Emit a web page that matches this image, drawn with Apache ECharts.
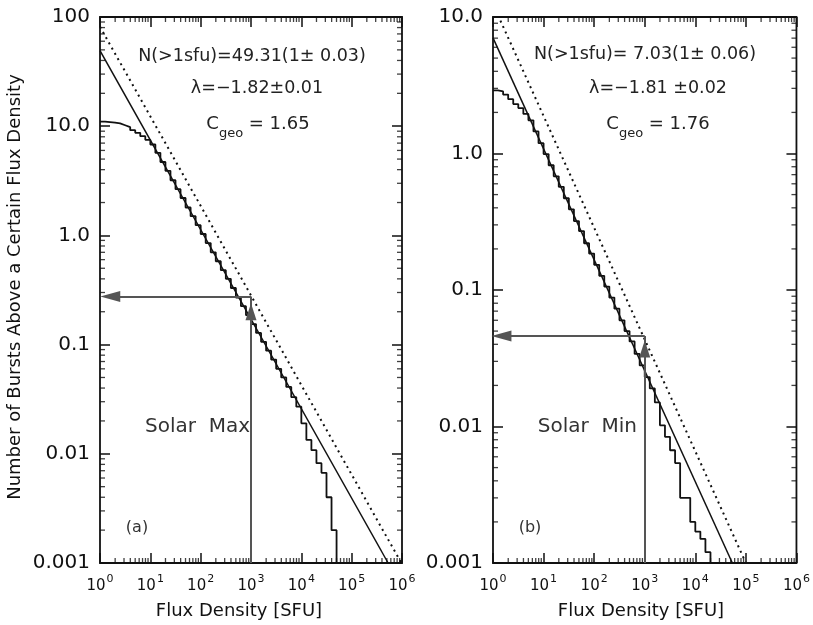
<!DOCTYPE html>
<html>
<head>
<meta charset="utf-8">
<script src="https://cdn.jsdelivr.net/npm/echarts@6/dist/echarts.min.js"></script>
<style>
html, body { margin: 0; padding: 0; background: #fff; }
#chart { width: 813px; height: 625px; }
</style>
</head>
<body>
<div id="chart"></div>
<script>
// cumulative burst rate, bins of 0.1 dex starting at 1 SFU
var binStep = 0.1;
var maxCounts = [11.0, 10.9, 10.8, 10.6, 10.2, 9.8, 9.2, 8.7, 8.1, 7.5,
	6.8, 5.7, 4.7, 3.9, 3.2, 2.65, 2.2, 1.8, 1.5, 1.24,
	1.03, 0.85, 0.70, 0.58, 0.48, 0.40, 0.33, 0.27, 0.225, 0.186,
	0.154, 0.128, 0.106, 0.088, 0.073, 0.060, 0.050, 0.041, 0.033, 0.027,
	0.019, 0.0134, 0.0108, 0.0082, 0.0067, 0.004, 0.002, 0.001, 0.001];
var minCounts = [2.9, 2.85, 2.7, 2.5, 2.3, 2.15, 1.95, 1.75, 1.45, 1.19,
	0.99, 0.82, 0.68, 0.57, 0.47, 0.39, 0.32, 0.27, 0.22, 0.185,
	0.153, 0.127, 0.106, 0.088, 0.073, 0.060, 0.050, 0.042, 0.034, 0.028,
	0.023, 0.019, 0.015, 0.0102, 0.0084, 0.0067, 0.0054, 0.003, 0.003, 0.002,
	0.0017, 0.0015, 0.0012, 0.001];

// power-law fits [S, N] (solid) and geo-corrected fits (dotted)
var maxFit = [[1, 49.31], [5.3e5, 0.001]];
var maxFitGeo = [[1, 81.4], [9.7e5, 0.001]];
var minFit = [[1, 7.03], [5.4e4, 0.001]];
var minFitGeo = [[1, 12.4], [1.0e5, 0.001]];

// read-off arrows at 1000 SFU: rate, and where the heads sit
var maxArrow = { s: 1000, n: 0.275, headN: 0.2, headS: 1.6 };
var minArrow = { s: 1000, n: 0.046, headN: 0.037, headS: 1.47 };

// tick labels
var yLabelsMax = ['0.001', '0.01', '0.1', '1.0', '10.0', '100'];
var yLabelsMin = ['0.001', '0.01', '0.1', '1.0', '10.0'];

var FONT = 'DejaVu Sans';
var INK = '#111';

function stairs(counts) {
	var d = [];
	for (var i = 0; i < counts.length; i++) {
		d.push([Math.pow(10, i * binStep), counts[i]]);
	}
	var end = Math.pow(10, counts.length * binStep);
	d.push([end, counts[counts.length - 1]]);
	d.push([end, 0.0001]);
	return d;
}

// 2..9 x 10^k minor tick values between two decades
function minorValues(lo, hi) {
	var v = [];
	for (var k = lo; k < hi; k++) {
		for (var m = 2; m <= 9; m++) v.push(m * Math.pow(10, k));
	}
	return v;
}

function logExp(v) { return Math.round(Math.log10(v)); }

function xAxisPair(grid) {
	var base = {
		type: 'log', logBase: 10, min: 1, max: 1e6, splitNumber: 6, gridIndex: grid,
		axisLine: { show: false }, splitLine: { show: false },
		axisTick: { inside: true, length: 10, lineStyle: { color: INK, width: 1.5 } }
	};
	var bottom = echarts.util.merge({
		position: 'bottom',
		axisLabel: {
			margin: 7,
			formatter: function (v) { return '{b|10}{s|' + logExp(v) + '}'; },
			rich: {
				b: { fontFamily: FONT, fontSize: 15, color: INK, lineHeight: 24, verticalAlign: 'bottom' },
				s: { fontFamily: FONT, fontSize: 11, color: INK, lineHeight: 24, verticalAlign: 'top', padding: [4, 0, 0, 1] }
			}
		}
	}, base, true);
	var top = echarts.util.merge({ position: 'top', axisLabel: { show: false } }, base, true);
	return [bottom, top];
}

function yAxisPair(grid, maxV, labels) {
	var lo = -3;
	var base = {
		type: 'log', logBase: 10, min: 0.001, max: maxV, splitNumber: logExp(maxV) - lo, gridIndex: grid,
		axisLine: { show: false }, splitLine: { show: false },
		axisTick: { inside: true, length: 10, lineStyle: { color: INK, width: 1.5 } }
	};
	var left = echarts.util.merge({
		position: 'left',
		axisLabel: {
			margin: 10, fontFamily: FONT, fontSize: 20, color: INK,
			formatter: function (v) { return labels[logExp(v) - lo]; }
		}
	}, base, true);
	var right = echarts.util.merge({ position: 'right', axisLabel: { show: false } }, base, true);
	return [left, right];
}

function tickSeries(ax, xMin, xMax, yMin, yMax) {
	var common = {
		type: 'scatter', xAxisIndex: ax, yAxisIndex: ax, symbol: 'rect', silent: true,
		clip: false, itemStyle: { color: INK }, z: 5
	};
	var xs = minorValues(logExp(xMin), logExp(xMax));
	var ys = minorValues(logExp(yMin), logExp(yMax));
	return [
		Object.assign({}, common, { data: xs.map(function (v) { return [v, yMin]; }), symbolSize: [1.3, 5], symbolOffset: [0, -2.5] }),
		Object.assign({}, common, { data: xs.map(function (v) { return [v, yMax]; }), symbolSize: [1.3, 5], symbolOffset: [0, 2.5] }),
		Object.assign({}, common, { data: ys.map(function (v) { return [xMin, v]; }), symbolSize: [5, 1.3], symbolOffset: [2.5, 0] }),
		Object.assign({}, common, { data: ys.map(function (v) { return [xMax, v]; }), symbolSize: [5, 1.3], symbolOffset: [-2.5, 0] })
	];
}

function panelSeries(ax, counts, fit, fitGeo, arrow) {
	return [
		{ type: 'line', xAxisIndex: ax, yAxisIndex: ax, data: stairs(counts), step: 'end', showSymbol: false,
			lineStyle: { color: INK, width: 1.8 }, z: 4 },
		{ type: 'line', xAxisIndex: ax, yAxisIndex: ax, data: fit, showSymbol: false,
			lineStyle: { color: INK, width: 1.5 }, z: 3 },
		{ type: 'line', xAxisIndex: ax, yAxisIndex: ax, data: fitGeo, showSymbol: false,
			lineStyle: { color: INK, width: 2, type: [2, 4] }, z: 3 },
		{ type: 'line', xAxisIndex: ax, yAxisIndex: ax, data: [],
			markLine: {
				silent: true, animation: false, label: { show: false },
				symbol: ['none', 'none'],
				lineStyle: { color: '#555', width: 2, type: 'solid' },
				data: [
					[{ coord: [arrow.s, 0.001] }, { coord: [arrow.s, arrow.n] }],
					[{ coord: [arrow.s, 0.001] }, { coord: [arrow.s, arrow.headN], symbol: 'triangle', symbolSize: [11, 17] }],
					[{ coord: [arrow.s, arrow.n] }, { coord: [arrow.headS, arrow.n], symbol: 'triangle', symbolSize: [11, 20] }]
				]
			}
		}
	];
}

var Container = document.getElementById('chart');
var myChart = echarts.init(Container);

var xA = xAxisPair(0), xB = xAxisPair(1);
var yA = yAxisPair(0, 100, yLabelsMax), yB = yAxisPair(1, 10, yLabelsMin);

var textStyle = { fontFamily: FONT, fontSize: 17.5, fill: '#222', align: 'center', verticalAlign: 'middle' };
function txt(x, y, text, extra) {
	return { type: 'text', x: x, y: y, silent: true, style: Object.assign({}, textStyle, { text: text }, extra || {}) };
}
var geoRich = {
	c: { fontFamily: FONT, fontSize: 18, fill: '#222', lineHeight: 25, verticalAlign: 'top' },
	s: { fontFamily: FONT, fontSize: 13, fill: '#222', lineHeight: 25, verticalAlign: 'bottom' }
};

var option = {
	animation: false,
	grid: [
		{ left: 100, top: 17, width: 302, height: 546, show: true, borderColor: INK, borderWidth: 1.8 },
		{ left: 493, top: 17, width: 304, height: 546, show: true, borderColor: INK, borderWidth: 1.8 }
	],
	xAxis: [xA[0], xA[1], xB[0], xB[1]],
	yAxis: [yA[0], yA[1], yB[0], yB[1]],
	series: [].concat(
		panelSeries(0, maxCounts, maxFit, maxFitGeo, maxArrow),
		tickSeries(0, 1, 1e6, 0.001, 100),
		panelSeries(2, minCounts, minFit, minFitGeo, minArrow),
		tickSeries(2, 1, 1e6, 0.001, 10)
	),
	graphic: [
		txt(15, 287, 'Number of Bursts Above a Certain Flux Density', { fontSize: 18, fill: INK }),
		txt(239, 611, 'Flux Density [SFU]', { fontSize: 18, fill: INK }),
		txt(641, 611, 'Flux Density [SFU]', { fontSize: 18, fill: INK }),
		txt(252, 56, 'N(>1sfu)=49.31(1\u00b1 0.03)'),
		txt(257, 88, '\u03bb=\u22121.82\u00b10.01'),
		txt(258, 128, '{c|C}{s|geo}{c| = 1.65}', { rich: geoRich }),
		txt(645, 54, 'N(>1sfu)= 7.03(1\u00b1 0.06)'),
		txt(658, 88, '\u03bb=\u22121.81 \u00b10.02'),
		txt(658, 128, '{c|C}{s|geo}{c| = 1.76}', { rich: geoRich }),
		txt(250, 427, 'Solar  Max', { fontSize: 20, fill: '#333', align: 'right' }),
		txt(637, 427, 'Solar  Min', { fontSize: 20, fill: '#333', align: 'right' }),
		txt(137, 528, '(a)', { fontSize: 16, fill: '#333' }),
		txt(530, 528, '(b)', { fontSize: 16, fill: '#333' })
	]
};
// rotate the y title
option.graphic[0].rotation = Math.PI / 2;

myChart.setOption(option);
</script>
</body>
</html>
